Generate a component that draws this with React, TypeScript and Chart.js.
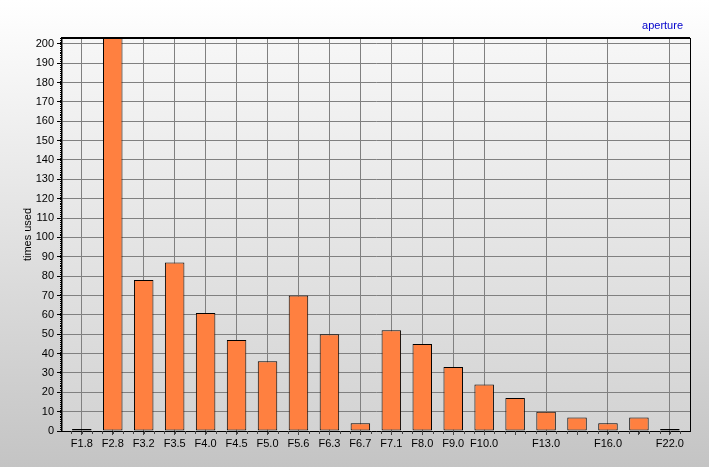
import React, { useEffect, useRef } from 'react';
import { Chart, registerables } from 'chart.js';

Chart.register(...registerables);

const categories = ['F1.8', 'F2.8', 'F3.2', 'F3.5', 'F4.0', 'F4.5', 'F5.0', 'F5.6', 'F6.3', 'F6.7', 'F7.1', 'F8.0', 'F9.0', 'F10.0', '', 'F13.0', '', 'F16.0', '', 'F22.0'];
const timesUsed = [1, 230, 78, 87, 61, 47, 36, 70, 50, 4, 52, 45, 33, 24, 17, 10, 7, 4, 7, 1];
const yMax = 203;
const yStep = 10;
const seriesName = 'aperture';
const yTitle = 'times used';

const FONT = "'Liberation Sans', Arial, sans-serif";

const decorPlugin = {
  id: 'decor',
  beforeDraw(chart: any) {
    const { ctx, chartArea } = chart;
    const g = ctx.createLinearGradient(0, chartArea.top, 0, chartArea.bottom);
    g.addColorStop(0, '#f7f7f7');
    g.addColorStop(1, '#d3d3d3');
    ctx.save();
    ctx.fillStyle = g;
    ctx.fillRect(chartArea.left, chartArea.top, chartArea.right - chartArea.left, chartArea.bottom - chartArea.top);
    ctx.restore();
  },
  afterDraw(chart: any) {
    const { ctx, chartArea, scales } = chart;
    ctx.save();
    ctx.strokeStyle = '#000';
    ctx.lineWidth = 2;
    ctx.beginPath();
    ctx.moveTo(chartArea.left, chartArea.top);
    ctx.lineTo(chartArea.right, chartArea.top);
    ctx.stroke();
    ctx.lineWidth = 1;
    ctx.beginPath();
    ctx.moveTo(chartArea.right + 0.5, chartArea.top);
    ctx.lineTo(chartArea.right + 0.5, chartArea.bottom);
    ctx.stroke();
    const y = scales.y;
    ctx.beginPath();
    for (let v = 0; v <= yMax; v++) {
      const py = Math.round(y.getPixelForValue(v)) + 0.5;
      ctx.moveTo(chartArea.left - 2, py);
      ctx.lineTo(chartArea.left, py);
    }
    ctx.stroke();
    const x = scales.x;
    ctx.strokeStyle = '#444';
    ctx.beginPath();
    for (let k = -3; k <= categories.length * 3; k++) {
      const v = k / 3;
      if (v < x.min || v > x.max) continue;
      const px = Math.round(x.getPixelForValue(v)) + 0.5;
      ctx.moveTo(px, chartArea.bottom);
      ctx.lineTo(px, chartArea.bottom + 3);
    }
    ctx.stroke();
    ctx.fillStyle = '#0000cc';
    ctx.font = `11px ${FONT}`;
    ctx.textAlign = 'right';
    ctx.textBaseline = 'middle';
    ctx.fillText(seriesName, chartArea.right - 7, chartArea.top - 12);
    ctx.restore();
  },
};

export default function App() {
  const ref = useRef<HTMLCanvasElement>(null);
  useEffect(() => {
    if (!ref.current) return;
    const chart = new Chart(ref.current, {
      type: 'bar',
      data: {
        datasets: [
          {
            label: seriesName,
            data: timesUsed.map((v, i) => ({ x: i, y: v })),
            backgroundColor: '#ff8040',
            borderColor: '#000000',
            borderWidth: 1,
            borderSkipped: false,
            barPercentage: 0.63,
            categoryPercentage: 1,
          },
        ],
      },
      options: {
        responsive: false,
        animation: false,
        devicePixelRatio: 1,
        layout: { padding: { top: 38, right: 19, bottom: 0, left: 0 } },
        plugins: {
          legend: { display: false },
          title: { display: false },
          tooltip: { enabled: false },
        },
        scales: {
          x: {
            type: 'linear',
            offset: false,
            min: -0.64,
            max: categories.length - 1 + 0.65,
            afterFit: (s: any) => { s.height = 36; },
            ticks: {
              stepSize: 1,
              includeBounds: false,
              autoSkip: false,
              maxRotation: 0,
              padding: 2,
              color: '#000',
              font: { family: FONT, size: 11 },
              callback: (v: any) => categories[v] ?? '',
            },
            grid: {
              offset: false,
              color: (c: any) => (categories[c.tick?.value] ? '#808080' : 'rgba(0,0,0,0)'),
              tickColor: '#444',
              tickLength: 4,
              lineWidth: 1,
            },
            border: { color: '#000', width: 1 },
          },
          y: {
            min: 0,
            max: yMax,
            afterFit: (s: any) => { s.width = 62; },
            ticks: {
              stepSize: yStep,
              includeBounds: false,
              padding: 3,
              color: '#000',
              font: { family: FONT, size: 11 },
            },
            grid: {
              color: '#808080',
              tickColor: '#000',
              tickLength: 5,
              lineWidth: 1,
            },
            border: { color: '#000', width: 1.5 },
            title: {
              display: true,
              text: yTitle,
              color: '#000',
              font: { family: FONT, size: 11 },
              padding: { top: 21, bottom: 0 },
            },
          },
        },
      },
      plugins: [decorPlugin],
    });
    return () => chart.destroy();
  }, []);

  return (
    <div
      style={{
        position: 'fixed',
        left: 0,
        top: 0,
        width: 709,
        height: 467,
        background: 'linear-gradient(to bottom, #ffffff 0%, #c4c4c4 100%)',
      }}
    >
      <canvas ref={ref} width={709} height={467} style={{ display: 'block' }} />
    </div>
  );
}
